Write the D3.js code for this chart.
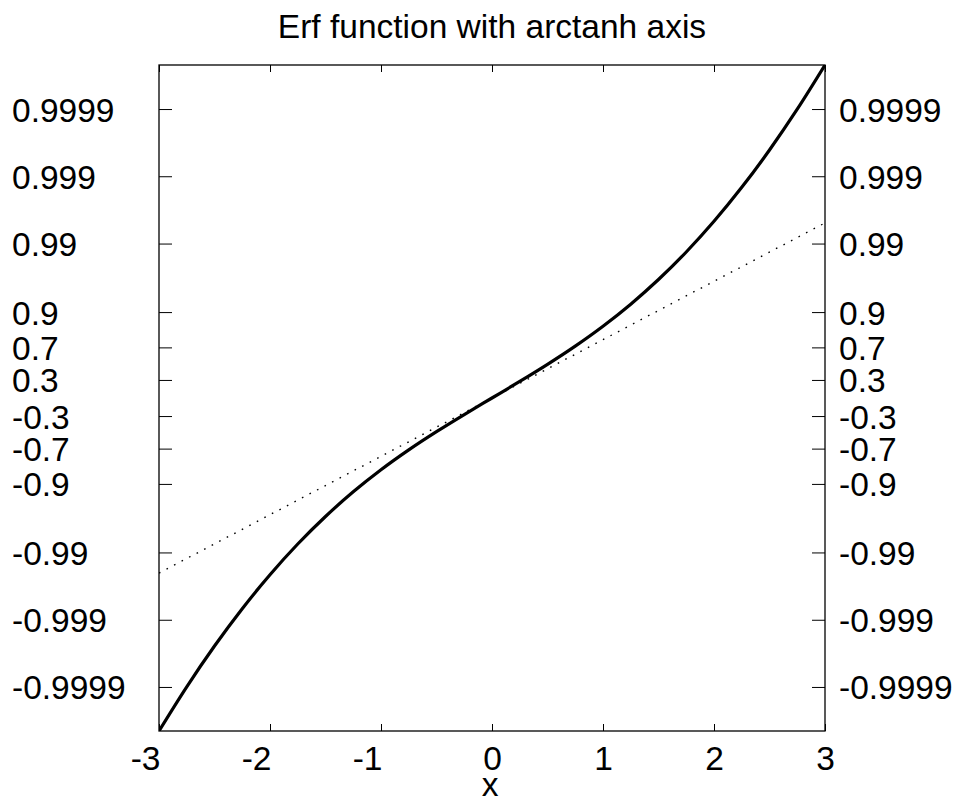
<!DOCTYPE html>
<html><head><meta charset="utf-8">
<script src="https://cdn.jsdelivr.net/npm/d3@7"></script>
<style>
body{margin:0;background:#fff}
text{font-family:"Liberation Sans",Arial,Helvetica,sans-serif;fill:#000}
</style>
</head><body>
<svg id="chart" width="956" height="802"></svg>
<script>
// ---- data ----
const xValues = [-3,-2.75,-2.5,-2.25,-2,-1.75,-1.5,-1.25,-1,-0.75,-0.5,-0.25,0,0.25,0.5,0.75,1,1.25,1.5,1.75,2,2.25,2.5,2.75,3];
const erfValues = [-0.9999779,-0.9998994,-0.9995930,-0.9985373,-0.9953223,-0.9866717,-0.9661051,-0.9229001,-0.8427008,-0.7111556,-0.5204999,-0.2763264,0,
                   0.2763264,0.5204999,0.7111556,0.8427008,0.9229001,0.9661051,0.9866717,0.9953223,0.9985373,0.9995930,0.9998994,0.9999779];
const tanhX = [-3,-2,-1,0,1,2,3];
const tanhValues = [-0.9950548,-0.9640276,-0.7615942,0,0.7615942,0.9640276,0.9950548];
const xTicks = [-3,-2,-1,0,1,2,3];
const yTicks = [-0.9999,-0.999,-0.99,-0.9,-0.7,-0.3,0.3,0.7,0.9,0.99,0.999,0.9999];
const yTickLabels = ["-0.9999","-0.999","-0.99","-0.9","-0.7","-0.3","0.3","0.7","0.9","0.99","0.999","0.9999"];
const title = "Erf function with arctanh axis";
const xLabel = "x";

// ---- layout ----
const L = 159, R = 825, T = 65, B = 731;
const svg = d3.select("#chart");
const fs = 33.5;

const x = d3.scaleLinear().domain(d3.extent(xValues)).range([L, R]);
const yExt = d3.extent(erfValues).map(Math.atanh);
const yLin = d3.scaleLinear().domain(yExt).range([B, T]);
const y = v => yLin(Math.atanh(v));

const erfData = xValues.map((d, i) => [d, erfValues[i]]);
const tanhData = tanhX.map((d, i) => [d, tanhValues[i]]);

svg.append("defs").append("clipPath").attr("id","clip")
  .append("rect").attr("x",L).attr("y",T).attr("width",R-L).attr("height",B-T);

const g = svg.append("g").attr("clip-path","url(#clip)");
g.append("path").datum(tanhData)
  .attr("d", d3.line().x(d => x(d[0])).y(d => y(d[1])))
  .attr("fill","none").attr("stroke","#000").attr("stroke-width",1.4)
  .attr("stroke-dasharray","1.6,6.9");
g.append("path").datum(erfData)
  .attr("d", d3.line().curve(d3.curveCatmullRom.alpha(0.5)).x(d => x(d[0])).y(d => y(d[1])))
  .attr("fill","none").attr("stroke","#000").attr("stroke-width",3.2)
  .attr("stroke-linejoin","round");

// axes
const yTickPos = yTicks.map(Math.atanh);
const fontFam = '"Liberation Sans",Arial,sans-serif';
const axL = svg.append("g").attr("transform",`translate(${L},0)`)
  .call(d3.axisLeft(yLin).tickValues(yTickPos).tickSizeInner(-13).tickSizeOuter(0).tickFormat((d,i)=>yTickLabels[i]));
axL.select(".domain").remove();
axL.selectAll("text").attr("x", 12 - L).attr("text-anchor","start").attr("dy",null).attr("y",12)
  .style("font-size",fs+"px").style("font-family",fontFam);
const axR = svg.append("g").attr("transform",`translate(${R},0)`)
  .call(d3.axisRight(yLin).tickValues(yTickPos).tickSizeInner(-13).tickSizeOuter(0).tickFormat((d,i)=>yTickLabels[i]));
axR.select(".domain").remove();
axR.selectAll("text").attr("x", 839 - R).attr("text-anchor","start").attr("dy",null).attr("y",12)
  .style("font-size",fs+"px").style("font-family",fontFam);

const axB = svg.append("g").attr("transform",`translate(0,${B})`)
  .call(d3.axisBottom(x).tickValues(xTicks).tickSizeInner(-7).tickSizeOuter(0).tickFormat(d => String(d)));
axB.select(".domain").remove();
axB.selectAll("text").attr("dy",null).attr("y",39)
  .attr("text-anchor", d => d < 0 ? "end" : "middle")
  .attr("x", d => d < 0 ? 1 : 0)
  .style("font-size",fs+"px").style("font-family",fontFam);
const axT = svg.append("g").attr("transform",`translate(0,${T})`)
  .call(d3.axisTop(x).tickValues(xTicks).tickSizeInner(-7).tickSizeOuter(0).tickFormat(""));
axT.select(".domain").remove();
svg.selectAll(".tick line").attr("stroke","#000").attr("stroke-width",1);

// frame
svg.append("rect").attr("x",L).attr("y",T).attr("width",R-L).attr("height",B-T)
  .attr("fill","none").attr("stroke","#000").attr("stroke-width",1.3);

// titles
svg.append("text").attr("x",(L+R)/2).attr("y",38).attr("text-anchor","middle")
  .style("font-size",fs+"px").text(title);
svg.append("text").attr("x",(L+R)/2 - 2).attr("y",796).attr("text-anchor","middle")
  .style("font-size",fs+"px").text(xLabel);
</script>
</body></html>
